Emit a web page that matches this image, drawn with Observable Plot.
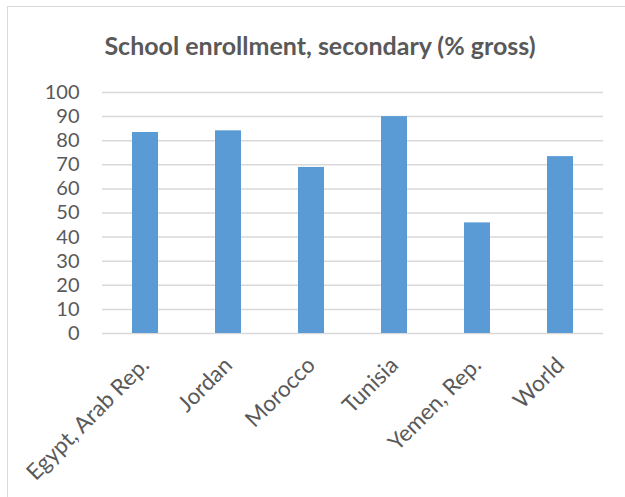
<!DOCTYPE html>
<html>
<head>
<meta charset="utf-8">
<script src="https://cdn.jsdelivr.net/npm/d3@7"></script>
<script src="https://cdn.jsdelivr.net/npm/@observablehq/plot@0.6"></script>
<style>
  html, body { margin: 0; padding: 0; background: #fff; }
  #wrap { position: relative; width: 625px; height: 497px; overflow: hidden; font-family: Lato, sans-serif; }
  #frame { position: absolute; left: 7px; top: 6px; width: 700px; height: 600px; border: 1.5px solid #d9d9d9; box-sizing: border-box; }
  #title { position: absolute; left: 0; width: 640px; top: 29px; text-align: center; font-size: 25px; font-weight: bold; color: #595959; margin: 0; line-height: 32px; }
  #chart { position: absolute; left: 0; top: 0; }
</style>
</head>
<body>
<div id="wrap">
  <div id="frame"></div>
  <div id="title">School enrollment, secondary (% gross)</div>
  <div id="chart"></div>
</div>
<script>
const categories = ["Egypt, Arab Rep.", "Jordan", "Morocco", "Tunisia", "Yemen, Rep.", "World"];
const values = [83.4, 84.1, 68.9, 90.0, 45.9, 73.4];
const yTicks = [0, 10, 20, 30, 40, 50, 60, 70, 80, 90, 100];

const data = categories.map((c, i) => ({category: c, value: values[i]}));

const plot = Plot.plot({
  width: 625,
  height: 497,
  marginLeft: 102,
  marginRight: 22,
  marginTop: 92,
  marginBottom: 164,
  style: {fontFamily: "Lato, sans-serif", fontSize: "20px", color: "#595959", background: "transparent", overflow: "visible"},
  x: {domain: categories, paddingInner: 0.69, paddingOuter: 0.345, label: null},
  y: {domain: [0, 100], label: null},
  marks: [
    Plot.gridY(yTicks, {stroke: "#d9d9d9", strokeOpacity: 1, strokeWidth: 1.5}),
    Plot.barY(data, {x: "category", y: "value", fill: "#5b9bd5"}),
    Plot.axisY(yTicks, {tickSize: 0, tickPadding: 23, fill: "#595959", fontSize: 20, label: null}),
    Plot.axisX({tickSize: 0, tickPadding: 28, dx: 0, tickRotate: -45, fill: "#595959", fontSize: 22.5, label: null})
  ]
});
document.getElementById("chart").appendChild(plot);
</script>
</body>
</html>
